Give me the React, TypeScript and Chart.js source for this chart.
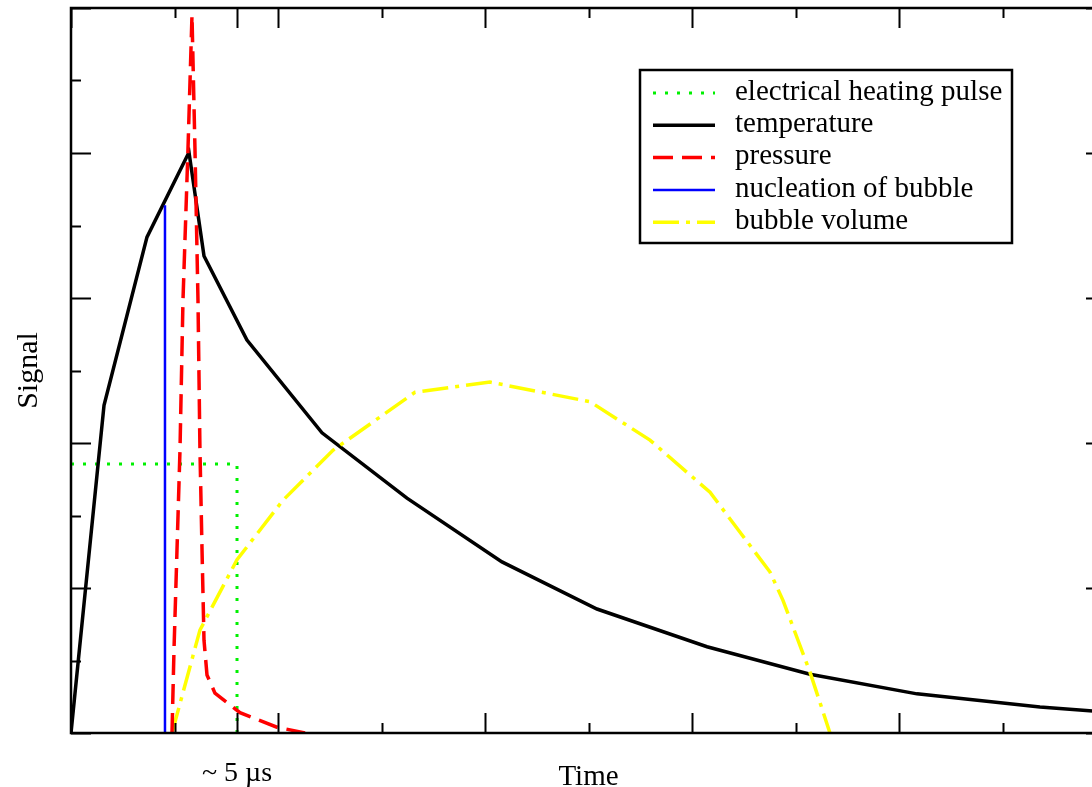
import React, { useEffect, useRef } from 'react';
import { Chart, registerables } from 'chart.js';

Chart.register(...registerables);

// ---- data (arbitrary units: x 0..10, y 0..10) ----
const HEAT_X = [0, 1.604, 1.604];
const HEAT_Y = [3.71, 3.71, 0];

const TEMP_X = [0, 0.319, 0.734, 1.14, 1.285, 1.7, 2.425, 3.246, 4.164, 5.082, 6.145, 7.14, 8.174, 9.362, 10];
const TEMP_Y = [0, 4.52, 6.84, 8.01, 6.58, 5.42, 4.14, 3.24, 2.36, 1.71, 1.19, 0.81, 0.54, 0.36, 0.29];

const PRES_X = [0.976, 0.995, 1.024, 1.053, 1.082, 1.13, 1.169, 1.198, 1.227, 1.246, 1.266, 1.285, 1.314, 1.391, 1.633, 1.99, 2.261];
const PRES_Y = [0, 1.14, 2.52, 3.9, 5.97, 8.04, 9.9, 8.04, 5.97, 3.9, 2.52, 1.28, 0.8, 0.55, 0.28, 0.08, 0];

const NUCL_X = [0.908, 0.908];
const NUCL_Y = [0, 7.28];

const VOL_X = [0.976, 1.246, 1.604, 2.048, 2.531, 3.324, 4.048, 5.014, 5.594, 6.174, 6.754, 6.879, 7.14, 7.333];
const VOL_Y = [0, 1.42, 2.39, 3.21, 3.9, 4.7, 4.84, 4.57, 4.04, 3.32, 2.22, 1.83, 0.84, 0];

const SERIES_NAMES = [
  'electrical heating pulse',
  'temperature',
  'pressure',
  'nucleation of bubble',
  'bubble volume',
];

const X_MIN = 0;
const X_MAX = 10;
const Y_MIN = 0;
const Y_MAX = 10;
const X_MAJOR = [0, 2, 4, 6, 8, 10];
const X_MINOR = [1, 3, 5, 7, 9];
const Y_MAJOR = [0, 2, 4, 6, 8, 10];
const Y_MINOR = [1, 3, 5, 7, 9];
const X_MARK = 1.604;
const X_MARK_LABEL = '~ 5 \u00b5s';
const X_TITLE = 'Time';
const Y_TITLE = 'Signal';

const FONT = '"Liberation Serif", "Times New Roman", serif';

const toPts = (xs: number[], ys: number[]) => xs.map((x, i) => ({ x, y: ys[i] }));

const frameTicksPlugin = {
  id: 'frameTicks',
  afterDraw(chart: any) {
    const { ctx, chartArea } = chart;
    const xs = chart.scales.x;
    const ys = chart.scales.y;
    const { left, right, top, bottom } = chartArea;
    ctx.save();
    ctx.strokeStyle = '#000';
    ctx.lineWidth = 2.5;
    ctx.setLineDash([]);
    ctx.strokeRect(left, top, right - left, bottom - top);
    ctx.lineWidth = 2;
    const vx = (v: number, len: number) => {
      const p = Math.round(xs.getPixelForValue(v)) + 0.5;
      ctx.beginPath();
      ctx.moveTo(p, bottom);
      ctx.lineTo(p, bottom - len);
      ctx.moveTo(p, top);
      ctx.lineTo(p, top + len);
      ctx.stroke();
    };
    const vy = (v: number, len: number) => {
      const p = Math.round(ys.getPixelForValue(v)) + 0.5;
      ctx.beginPath();
      ctx.moveTo(left, p);
      ctx.lineTo(left + len, p);
      ctx.moveTo(right, p);
      ctx.lineTo(right - len, p);
      ctx.stroke();
    };
    X_MAJOR.forEach((v) => vx(v, 20));
    X_MINOR.forEach((v) => vx(v, 10));
    vx(X_MARK, 20);
    Y_MAJOR.forEach((v) => vy(v, 20));
    Y_MINOR.forEach((v) => vy(v, 10));
    ctx.restore();
  },
};

const legendPlugin = {
  id: 'boxLegend',
  afterDraw(chart: any) {
    const { ctx } = chart;
    const bx = 640, by = 70, bw = 372, bh = 173;
    ctx.save();
    ctx.fillStyle = '#fff';
    ctx.fillRect(bx, by, bw, bh);
    ctx.strokeStyle = '#000';
    ctx.lineWidth = 2.5;
    ctx.setLineDash([]);
    ctx.strokeRect(bx, by, bw, bh);
    chart.data.datasets.forEach((ds: any, i: number) => {
      const y = 93 + i * 32.3;
      ctx.strokeStyle = ds.borderColor;
      ctx.lineWidth = ds.borderWidth;
      ctx.setLineDash(ds.borderDash || []);
      ctx.beginPath();
      ctx.moveTo(653, y);
      ctx.lineTo(715, y);
      ctx.stroke();
      ctx.setLineDash([]);
      ctx.fillStyle = '#000';
      ctx.font = `29px ${FONT}`;
      ctx.textBaseline = 'middle';
      ctx.textAlign = 'left';
      ctx.fillText(ds.label, 735, y - 1);
    });
    ctx.restore();
  },
};

export default function App() {
  const ref = useRef<HTMLCanvasElement | null>(null);
  useEffect(() => {
    if (!ref.current) return;
    const common = { pointRadius: 0, pointHoverRadius: 0, tension: 0, fill: false, showLine: true };
    const chart = new Chart(ref.current, {
      type: 'line',
      data: {
        datasets: [
          { ...common, label: SERIES_NAMES[0], data: toPts(HEAT_X, HEAT_Y), borderColor: '#00f000', borderWidth: 3, borderDash: [3, 9], order: 5 },
          { ...common, label: SERIES_NAMES[1], data: toPts(TEMP_X, TEMP_Y), borderColor: '#000000', borderWidth: 3.5, order: 4 },
          { ...common, label: SERIES_NAMES[2], data: toPts(PRES_X, PRES_Y), borderColor: '#ff0000', borderWidth: 3.5, borderDash: [20, 9], order: 2 },
          { ...common, label: SERIES_NAMES[3], data: toPts(NUCL_X, NUCL_Y), borderColor: '#0000ff', borderWidth: 2.5, order: 1 },
          { ...common, label: SERIES_NAMES[4], data: toPts(VOL_X, VOL_Y), borderColor: '#ffff00', borderWidth: 3.5, borderDash: [26, 7, 4, 7], order: 3 },
        ],
      },
      options: {
        animation: false,
        responsive: false,
        devicePixelRatio: 1,
        parsing: false as any,
        layout: { padding: { top: 8, right: 24, left: 0, bottom: 0 } },
        plugins: { legend: { display: false }, tooltip: { enabled: false } },
        scales: {
          x: {
            type: 'linear',
            min: X_MIN,
            max: X_MAX,
            grid: { display: false, drawTicks: false },
            border: { display: false },
            afterBuildTicks: (axis: any) => {
              axis.ticks = [{ value: X_MARK }];
            },
            afterFit: (axis: any) => {
              axis.height = 54;
            },
            ticks: {
              autoSkip: false,
              maxRotation: 0,
              padding: 24,
              color: '#000',
              font: { family: FONT, size: 28 },
              callback: () => X_MARK_LABEL,
            },
            title: {
              display: true,
              text: X_TITLE,
              color: '#000',
              font: { family: FONT, size: 29, lineHeight: 1 },
              padding: { top: 0, bottom: -5 },
            },
          },
          y: {
            type: 'linear',
            min: Y_MIN,
            max: Y_MAX,
            grid: { display: false, drawTicks: false },
            border: { display: false },
            ticks: { display: false },
            afterFit: (axis: any) => {
              axis.width = 71;
            },
            title: {
              display: true,
              text: Y_TITLE,
              color: '#000',
              font: { family: FONT, size: 30, lineHeight: 1 },
              padding: { top: 14, bottom: 0 },
            },
          },
        },
      } as any,
      plugins: [frameTicksPlugin, legendPlugin],
    });
    return () => chart.destroy();
  }, []);
  return (
    <div style={{ position: 'fixed', left: 0, top: 0, width: 1092, height: 787, overflow: 'hidden', background: '#fff' }}>
      <canvas ref={ref} width={1130} height={787} style={{ display: 'block' }} />
    </div>
  );
}
